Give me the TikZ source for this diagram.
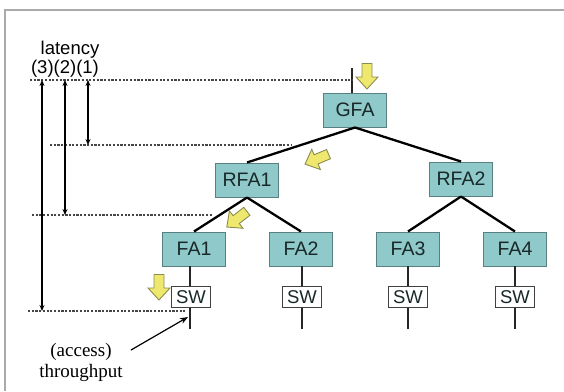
\documentclass[tikz,border=0pt]{standalone}
\usepackage{fontspec}
\setmainfont{Liberation Sans}
\newfontfamily\serifface{Liberation Serif}
\usetikzlibrary{arrows.meta}
\definecolor{boxfill}{RGB}{143,201,201}
\definecolor{boxline}{RGB}{88,128,128}
\definecolor{boxtext}{RGB}{25,40,40}
\definecolor{arrfill}{RGB}{238,232,110}
\definecolor{arrline}{RGB}{140,140,80}
\definecolor{frame}{RGB}{170,170,170}
\definecolor{dashcol}{RGB}{70,70,70}
\tikzset{
  fa/.style={draw=boxline, line width=1pt, fill=boxfill, text=boxtext, minimum width=63pt, minimum height=34pt, inner sep=0pt, font=\fontsize{19.5}{21}\selectfont},
  swbox/.style={draw=black!75, line width=0.8pt, fill=white, text=boxtext, minimum width=39pt, minimum height=21pt, inner sep=0pt, font=\fontsize{18.5}{19}\selectfont},
  edge/.style={line width=2.3pt, black},
  stub/.style={line width=1.5pt, black!85},
  guide/.style={dashcol, line width=1.2pt, dash pattern=on 2.2pt off 1.5pt},
  span/.style={line width=1.4pt, {Stealth[length=6pt,width=5pt]}-{Stealth[length=6pt,width=5pt]}},
  lbl/.style={inner sep=0pt, font=\fontsize{18.5}{20}\selectfont},
  blockarrow/.style={fill=arrfill, draw=arrline, line width=0.9pt, line join=miter},
}
% yellow block arrow: centre x, centre y, direction angle
\newcommand\blockarrowat[3]{%
  \draw[blockarrow, shift={(#1,#2)}, rotate=#3]
    (-12.5,-5) -- (1,-5) -- (1,-11) -- (13,0) -- (1,11) -- (1,5) -- (-12.5,5) -- cycle;}
\begin{document}
\begin{tikzpicture}[x=1pt, y=-1pt]
\useasboundingbox (0,0) rectangle (564,391);
% frame
\draw[frame, line width=1.5pt] (5,391) -- (5,10) -- (564,10);

% tree
\node[fa] (GFA)  at (355,110) {GFA};
\node[fa] (RFA1) at (247,180) {RFA1};
\node[fa] (RFA2) at (461,179) {RFA2};
\node[fa] (FA1)  at (194,249) {FA1};
\node[fa] (FA2)  at (301,249) {FA2};
\node[fa] (FA3)  at (408,249) {FA3};
\node[fa] (FA4)  at (515,249) {FA4};

\node[swbox] (SW1) at (191,297) {SW};
\node[swbox] (SW2) at (302,297) {SW};
\node[swbox] (SW3) at (408,297) {SW};
\node[swbox] (SW4) at (515,297) {SW};

\draw[edge] (GFA.south) -- (RFA1.north);
\draw[edge] (GFA.south) -- (RFA2.north);
\draw[edge] (RFA1.south) -- (FA1.north);
\draw[edge] (RFA1.south) -- (FA2.north);
\draw[edge] (RFA2.south) -- (FA3.north);
\draw[edge] (RFA2.south) -- (FA4.north);

% access links
\coordinate (gtop) at (352,68);
\draw[stub] (gtop) -- (gtop |- GFA.north);
\foreach \i/\x in {1/190,2/302,3/408,4/515}{
  \coordinate (end\i) at (\x,329);
  \draw[stub] (\x,266) -- (SW\i.north -| end\i);
  \draw[stub] (SW\i.south -| end\i) -- (end\i);
}

% level guides
\coordinate (g0a) at (30,80);   \coordinate (g0b) at (352,80);
\coordinate (g1a) at (50,145);  \coordinate (g1b) at (292,145);
\coordinate (g2a) at (32,215);  \coordinate (g2b) at (213,215);
\coordinate (g3a) at (28,311);  \coordinate (g3b) at (185,311);
\draw[guide] (g0a) -- (g0b);
\draw[guide] (g1a) -- (g1b);
\draw[guide] (g2a) -- (g2b);
\draw[guide] (g3a) -- (g3b);

% latency spans
\coordinate (l1t) at (88,80);  \coordinate (l1b) at (88,145);
\coordinate (l2t) at (65,80);  \coordinate (l2b) at (65,215);
\coordinate (l3t) at (42,80);  \coordinate (l3b) at (42,311);
\draw[span] (l1t) -- (l1b);
\draw[span] (l2t) -- (l2b);
\draw[span] (l3t) -- (l3b);

\node[lbl] (lat) at (70,50) {latency};
\node[lbl] (lev) at (65,69) {(3)(2)(1)};

% throughput label
\node[lbl, align=center, font=\serifface\fontsize{19}{21}\selectfont] (thr) at (81,362) {(access)\\throughput};
\coordinate (thrA) at (131,350);
\coordinate (thrB) at (188,317);
\draw[line width=1.2pt, -{Stealth[length=8pt,width=6pt]}] (thrA) -- (thrB);

% yellow block arrows
\blockarrowat{367}{76}{270}
\blockarrowat{317}{159}{203}
\blockarrowat{237}{219}{218}
\blockarrowat{159}{287}{270}
\end{tikzpicture}
\end{document}
